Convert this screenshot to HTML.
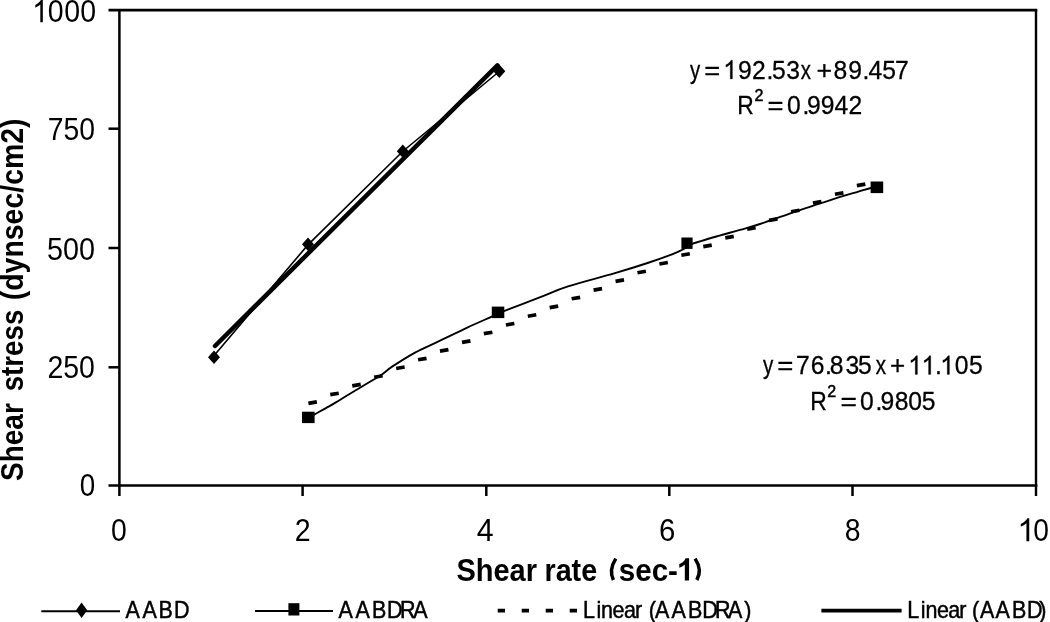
<!DOCTYPE html>
<html>
<head>
<meta charset="utf-8">
<title>Shear stress vs shear rate</title>
<style>
html,body{margin:0;padding:0;background:#fff;}
body{width:1050px;height:622px;overflow:hidden;font-family:"Liberation Sans",sans-serif;}
svg{display:block;filter:blur(0.45px);}
text{font-family:"Liberation Sans",sans-serif;fill:#000;}
</style>
</head>
<body>
<svg width="1050" height="622" viewBox="0 0 1050 622">
<rect x="0" y="0" width="1050" height="622" fill="#fff"/>

<!-- plot frame -->
<g stroke="#000" stroke-width="2.5" fill="none" stroke-linecap="butt">
  <line x1="108.5" y1="10.2" x2="1037.3" y2="10.2" stroke-width="2.8"/>
  <line x1="1036" y1="10.2" x2="1036" y2="496" stroke-width="2.4"/>
  <line x1="108.5" y1="485.5" x2="1037.4" y2="485.5"/>
  <line x1="119.4" y1="10.2" x2="119.4" y2="496"/>
  <!-- y ticks -->
  <line x1="108.5" y1="128.7" x2="119.4" y2="128.7"/>
  <line x1="108.5" y1="248" x2="119.4" y2="248"/>
  <line x1="108.5" y1="367.3" x2="119.4" y2="367.3"/>
  <!-- x ticks -->
  <line x1="302.6" y1="485.5" x2="302.6" y2="496"/>
  <line x1="486.3" y1="485.5" x2="486.3" y2="496"/>
  <line x1="669.3" y1="485.5" x2="669.3" y2="496"/>
  <line x1="852.5" y1="485.5" x2="852.5" y2="496"/>
</g>

<!-- Linear (AABD) trendline -->
<line x1="215.0" y1="346.0" x2="497.4" y2="65.4" stroke="#000" stroke-width="4.5" stroke-linecap="round"/>
<!-- AABD series -->
<path d="M213.5 356.2 L307.9 244.9 L402.6 151.5 L498 72.5" fill="none" stroke="#000" stroke-width="1.6"/>
<g fill="#000">
  <path d="M214 350.6 l6 6.7 l-6 6.7 l-6 -6.7z"/>
  <path d="M308 237.5 l6 6.7 l-6 6.7 l-6 -6.7z"/>
  <path d="M402.8 144.6 l6 6.7 l-6 6.7 l-6 -6.7z"/>
  <path d="M499.3 64.6 l6 6.7 l-6 6.7 l-6 -6.7z"/>
</g>

<!-- Linear (AABDRA) dotted trendline -->
<g fill="#000"><rect x="308.3" y="400.8" width="8.6" height="3.7" transform="rotate(-10 312.6 402.6)"/><rect x="330.2" y="392.1" width="8.6" height="3.7" transform="rotate(-10 334.5 393.9)"/><rect x="352.2" y="383.3" width="8.6" height="3.7" transform="rotate(-10 356.5 385.2)"/><rect x="374.1" y="374.6" width="8.6" height="3.7" transform="rotate(-10 378.4 376.5)"/><rect x="396.1" y="365.9" width="8.6" height="3.7" transform="rotate(-10 400.4 367.8)"/><rect x="418.0" y="357.2" width="8.6" height="3.7" transform="rotate(-10 422.3 359.1)"/><rect x="439.9" y="348.5" width="8.6" height="3.7" transform="rotate(-10 444.2 350.4)"/><rect x="461.9" y="339.8" width="8.6" height="3.7" transform="rotate(-10 466.2 341.6)"/><rect x="483.8" y="331.1" width="8.6" height="3.7" transform="rotate(-10 488.1 332.9)"/><rect x="505.8" y="322.4" width="8.6" height="3.7" transform="rotate(-10 510.1 324.2)"/><rect x="527.7" y="313.7" width="8.6" height="3.7" transform="rotate(-10 532.0 315.5)"/><rect x="549.6" y="305.0" width="8.6" height="3.7" transform="rotate(-10 553.9 306.8)"/><rect x="571.6" y="296.2" width="8.6" height="3.7" transform="rotate(-10 575.9 298.1)"/><rect x="593.5" y="287.5" width="8.6" height="3.7" transform="rotate(-10 597.8 289.4)"/><rect x="615.5" y="278.8" width="8.6" height="3.7" transform="rotate(-10 619.8 280.7)"/><rect x="637.4" y="270.1" width="8.6" height="3.7" transform="rotate(-10 641.7 272.0)"/><rect x="659.3" y="261.4" width="8.6" height="3.7" transform="rotate(-10 663.6 263.2)"/><rect x="681.3" y="252.7" width="8.6" height="3.7" transform="rotate(-10 685.6 254.5)"/><rect x="703.2" y="244.0" width="8.6" height="3.7" transform="rotate(-10 707.5 245.8)"/><rect x="725.2" y="235.3" width="8.6" height="3.7" transform="rotate(-10 729.5 237.1)"/><rect x="747.1" y="226.6" width="8.6" height="3.7" transform="rotate(-10 751.4 228.4)"/><rect x="769.0" y="217.8" width="8.6" height="3.7" transform="rotate(-10 773.3 219.7)"/><rect x="791.0" y="209.1" width="8.6" height="3.7" transform="rotate(-10 795.3 211.0)"/><rect x="812.9" y="200.4" width="8.6" height="3.7" transform="rotate(-10 817.2 202.3)"/><rect x="834.9" y="191.7" width="8.6" height="3.7" transform="rotate(-10 839.2 193.6)"/><rect x="856.8" y="183.0" width="8.6" height="3.7" transform="rotate(-10 861.1 184.9)"/></g>
<!-- AABDRA series (smoothed) -->
<path id="s2" d="M308.2 418.0 C309.2 417.4 310.7 416.5 314.1 414.6 C317.5 412.7 324.2 409.2 328.6 406.7 C333.0 404.2 335.4 402.6 340.2 399.7 C344.9 396.8 352.1 392.5 357.1 389.5 C362.1 386.5 365.9 384.3 370.0 381.8 C374.1 379.3 378.1 377.1 381.9 374.5 C385.6 371.9 387.0 370.0 392.5 366.4 C398.0 362.8 407.5 356.7 415.0 352.6 C422.5 348.5 428.9 346.0 437.5 341.9 C446.1 337.8 457.6 332.1 466.8 327.8 C476.0 323.5 487.7 318.5 492.9 316.1 C498.1 313.7 490.3 316.5 498.0 313.4 C505.7 310.3 527.3 302.1 539.0 297.6 C550.7 293.1 555.5 290.4 568.0 286.4 C580.5 282.4 600.8 277.3 614.1 273.4 C627.4 269.5 638.5 266.0 647.6 263.0 C656.7 260.0 663.3 257.6 668.6 255.6 C673.9 253.6 676.3 252.5 679.4 251.1 C682.5 249.7 684.9 248.4 687.0 247.2 C689.1 246.0 687.0 245.7 692.3 243.8 C697.6 241.9 710.8 238.1 718.7 235.8 C726.7 233.5 733.1 231.9 740.0 229.9 C746.9 227.9 750.9 227.0 760.0 224.0 C769.1 221.0 785.1 215.1 794.7 211.8 C804.4 208.5 810.2 206.7 817.9 204.2 C825.6 201.7 834.2 198.7 841.0 196.6 C847.8 194.5 853.6 193.0 858.4 191.6 C863.2 190.2 866.9 188.9 870.0 188.2 C873.1 187.5 875.8 187.5 877.0 187.3" fill="none" stroke="#000" stroke-width="1.9" stroke-linejoin="round"/>
<g fill="#000">
  <rect x="302" y="411.7" width="12.6" height="11.4"/>
  <rect x="491.8" y="306.6" width="12.5" height="11.5"/>
  <rect x="681.4" y="237.5" width="11.2" height="11.4"/>
  <rect x="870.6" y="181.5" width="12.6" height="11.6"/>
</g>

<!-- legend -->
<g stroke="#000" fill="none">
  <line x1="41.3" y1="611.2" x2="120" y2="611.2" stroke-width="2.1"/>
  <line x1="255" y1="611" x2="333" y2="611" stroke-width="2.1"/>
  <line x1="497.7" y1="610.6" x2="580" y2="610.6" stroke-width="3.6" stroke-dasharray="7.3 16.7"/>
  <line x1="821.4" y1="610.6" x2="901.6" y2="610.6" stroke-width="3.6"/>
</g>
<path d="M81.6 602.6 l5.6 7.7 l-5.6 7.7 l-5.6 -7.7z" fill="#000"/>
<rect x="288.4" y="603.2" width="11" height="12.3" fill="#000"/>

<!-- text -->
<text id="y750" transform="translate(47.71 140.30) scale(0.8858 1)" font-size="32">750</text>
<text id="y500" transform="translate(46.90 260.10) scale(0.8993 1)" font-size="32">500</text>
<text id="y250" transform="translate(47.41 378.40) scale(0.8896 1)" font-size="32">250</text>
<text id="y0" transform="translate(79.63 496.10) scale(0.8688 1)" font-size="32">0</text>
<text id="x0" transform="translate(111.11 541.20) scale(0.8875 1)" font-size="32">0</text>
<text id="x2" transform="translate(294.81 541.20) scale(0.8938 1)" font-size="32">2</text>
<text id="x4" transform="translate(476.80 541.20) scale(0.9471 1)" font-size="32">4</text>
<text id="x6" transform="translate(659.08 541.20) scale(0.9188 1)" font-size="32">6</text>
<text id="x8" transform="translate(844.71 541.20) scale(0.8875 1)" font-size="32">8</text>
<text id="x10b" transform="translate(1033.22 541.20) scale(0.8813 1)" font-size="32">0</text>
<text id="xt1" transform="translate(456.40 580.60) scale(0.9362 1)" font-size="31" font-weight="bold">Shear</text>
<text id="xt2" transform="translate(544.44 580.60) scale(0.9281 1)" font-size="31" font-weight="bold">rate</text>
<text id="xt4" transform="translate(618.74 580.60) scale(0.9552 1)" font-size="31" font-weight="bold">sec-</text>
<text id="e1y" transform="translate(690.00 78.90) scale(0.7846 1)" font-size="26" stroke="#000" stroke-width="0.3">y</text>
<text id="e1q" transform="translate(704.15 78.90) scale(1.0538 1)" font-size="26" stroke="#000" stroke-width="0.3">=</text>
<text id="e1x" transform="translate(800.80 78.90) scale(0.7846 1)" font-size="26" stroke="#000" stroke-width="0.3">x</text>
<text id="e1p" transform="translate(816.47 78.90) scale(1.0308 1)" font-size="26" stroke="#000" stroke-width="0.3">+</text>
<text id="e1R" transform="translate(737.14 114.10) scale(0.8813 1)" font-size="26" stroke="#000" stroke-width="0.3">R</text>
<text id="e1e" transform="translate(767.55 114.10) scale(1.0538 1)" font-size="26" stroke="#000" stroke-width="0.3">=</text>
<text id="e2y" transform="translate(763.00 374.40) scale(0.7923 1)" font-size="26" stroke="#000" stroke-width="0.3">y</text>
<text id="e2q" transform="translate(777.14 374.40) scale(1.0615 1)" font-size="26" stroke="#000" stroke-width="0.3">=</text>
<text id="e2x" transform="translate(875.70 374.40) scale(0.7923 1)" font-size="26" stroke="#000" stroke-width="0.3">x</text>
<text id="e2p" transform="translate(889.90 374.40) scale(1.0000 1)" font-size="26" stroke="#000" stroke-width="0.3">+</text>
<text id="e2R" transform="translate(810.14 409.90) scale(0.8813 1)" font-size="26" stroke="#000" stroke-width="0.3">R</text>
<text id="e2e" transform="translate(840.52 409.90) scale(1.0846 1)" font-size="26" stroke="#000" stroke-width="0.3">=</text>
<text id="yt1" transform="translate(22.90 481.00) rotate(-90) scale(0.9187 1)" font-size="30.5" font-weight="bold">Shear</text>
<text id="yt2" transform="translate(22.90 391.31) rotate(-90) scale(0.9088 1)" font-size="30.5" font-weight="bold">stress</text>
<text id="yt3" transform="translate(22.90 300.23) rotate(-90) scale(0.9326 1)" font-size="30.5" font-weight="bold">(dynsec/cm2)</text>
<text id="y1000" transform="translate(0 22.30) scale(0.89 1)" x="53.61 72.26 90.24" y="0" font-size="32">000</text>
<path d="M373 0H285V560Q250 530 200 500Q150 472 109 455V540Q183 575 238 624Q293 673 316 719H373Z" transform="translate(32.20 22.30) scale(0.02848 -0.03200)" fill="#000"/>
<path d="M373 0H285V560Q250 530 200 500Q150 472 109 455V540Q183 575 238 624Q293 673 316 719H373Z" transform="translate(1017.31 541.20) scale(0.03200 -0.03200)" fill="#000"/>
<path d="M394 0H257V517Q182 447 79 413V538Q133 555 196 604Q259 653 282 719H394Z" transform="translate(676.85 580.60) scale(0.03100 -0.03100)" fill="#000"/>
<text id="e1a" transform="translate(0 78.90) scale(0.95 1)" x="776.89 791.63 806.95 812.58 827.68 877.42 892.89 907.79 914.11 928.68 942.16" y="0" font-size="26" stroke="#000" stroke-width="0.3">92.5389.457</text>
<path d="M373 0H285V560Q250 530 200 500Q150 472 109 455V540Q183 575 238 624Q293 673 316 719H373Z" transform="translate(723.21 78.90) scale(0.02470 -0.02600)" fill="#000" stroke="#000" stroke-width="11.5"/>
<text id="e1b" transform="translate(0 114.10) scale(0.95 1)" x="828.47 844.84 849.53 863.95 878.53 893.21" y="0" font-size="26" stroke="#000" stroke-width="0.3">0.9942</text>
<text id="e1s" transform="translate(0 101.00) scale(1 1)" x="754.60" y="0" font-size="16" stroke="#000" stroke-width="0.5">2</text>
<text id="e2a" transform="translate(0 374.40) scale(0.95 1)" x="837.95 853.53 868.42 873.32 890.00 903.21 984.32 1005.11 1020.05" y="0" font-size="26" stroke="#000" stroke-width="0.3">76.835.05</text>
<path d="M373 0H285V560Q250 530 200 500Q150 472 109 455V540Q183 575 238 624Q293 673 316 719H373Z" transform="translate(908.21 374.40) scale(0.02470 -0.02600)" fill="#000" stroke="#000" stroke-width="11.5"/>
<path d="M373 0H285V560Q250 530 200 500Q150 472 109 455V540Q183 575 238 624Q293 673 316 719H373Z" transform="translate(921.51 374.40) scale(0.02470 -0.02600)" fill="#000" stroke="#000" stroke-width="11.5"/>
<path d="M373 0H285V560Q250 530 200 500Q150 472 109 455V540Q183 575 238 624Q293 673 316 719H373Z" transform="translate(940.21 374.40) scale(0.02470 -0.02600)" fill="#000" stroke="#000" stroke-width="11.5"/>
<text id="e2b" transform="translate(0 409.90) scale(0.95 1)" x="905.32 921.47 926.79 941.74 956.05 970.16" y="0" font-size="26" stroke="#000" stroke-width="0.3">0.9805</text>
<text id="e2s" transform="translate(0 396.80) scale(1 1)" x="827.20" y="0" font-size="16" stroke="#000" stroke-width="0.5">2</text>
<text id="l1" transform="translate(0 617.50) scale(1 1.1)" x="125.50 142.50 158.50 173.90" y="0" font-size="21.5" stroke="#000" stroke-width="0.45">AABD</text>
<text id="l2" transform="translate(0 617.50) scale(1 1.1)" x="338.50 355.50 372.10 386.90 399.90 413.20" y="0" font-size="21.5" stroke="#000" stroke-width="0.45">AABDRA</text>
<text id="l3a" transform="translate(0 617.50) scale(1 1.1)" x="583.00 596.40 601.10 612.60 624.00 635.00" y="0" font-size="21.5" stroke="#000" stroke-width="0.45">Linear</text>
<text id="l3b" transform="translate(0 617.50) scale(1 1.1)" x="648.80 655.00 671.40 688.00 702.30 714.90 728.10 744.30" y="0" font-size="21.5" stroke="#000" stroke-width="0.45">(AABDRA)</text>
<text id="l4a" transform="translate(0 617.50) scale(1 1.1)" x="907.30 920.70 925.40 936.90 948.30 959.30" y="0" font-size="21.5" stroke="#000" stroke-width="0.45">Linear</text>
<text id="l4b" transform="translate(0 617.50) scale(1 1.1)" x="971.90 980.10 995.60 1012.10 1027.10 1039.30" y="0" font-size="21.5" stroke="#000" stroke-width="0.45">(AABD)</text>
<path d="M615.8 558.6 Q608.6 570 613.4 580" fill="none" stroke="#000" stroke-width="3.5"/>
<path d="M695.1 558.6 Q702.6 570 696.8 580" fill="none" stroke="#000" stroke-width="3.5"/>
</svg>
</body>
</html>
